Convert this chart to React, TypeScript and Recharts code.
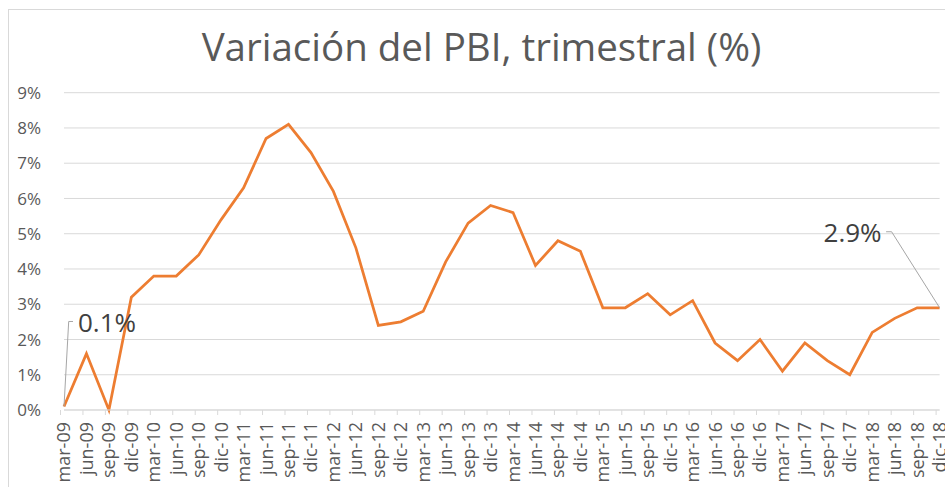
import React from 'react'
import { LineChart, Line, XAxis, YAxis, CartesianGrid, LabelList } from 'recharts'

const quarters = [
  'mar-09', 'jun-09', 'sep-09', 'dic-09',
  'mar-10', 'jun-10', 'sep-10', 'dic-10',
  'mar-11', 'jun-11', 'sep-11', 'dic-11',
  'mar-12', 'jun-12', 'sep-12', 'dic-12',
  'mar-13', 'jun-13', 'sep-13', 'dic-13',
  'mar-14', 'jun-14', 'sep-14', 'dic-14',
  'mar-15', 'jun-15', 'sep-15', 'dic-15',
  'mar-16', 'jun-16', 'sep-16', 'dic-16',
  'mar-17', 'jun-17', 'sep-17', 'dic-17',
  'mar-18', 'jun-18', 'sep-18', 'dic-18',
]

// variación trimestral del PBI, en %
const pbi = [
  0.1, 1.6, 0.0, 3.2,
  3.8, 3.8, 4.4, 5.4,
  6.3, 7.7, 8.1, 7.3,
  6.2, 4.6, 2.4, 2.5,
  2.8, 4.2, 5.3, 5.8,
  5.6, 4.1, 4.8, 4.5,
  2.9, 2.9, 3.3, 2.7,
  3.1, 1.9, 1.4, 2.0,
  1.1, 1.9, 1.4, 1.0,
  2.2, 2.6, 2.9, 2.9,
]

const yTicks = [0, 1, 2, 3, 4, 5, 6, 7, 8, 9]

const data = quarters.map((q, i) => ({ q, pbi: pbi[i] }))

const FONT = '"Open Sans", sans-serif'
const GREY = '#595959'

const QuarterTick = (props: any) => {
  const { x, y, payload } = props
  return (
    <g transform={`translate(${x},${y})`}>
      <line x1={-3.5} y1={0} x2={-3.5} y2={5} stroke="#d9d9d9" />
      <text
        transform="rotate(-90)"
        x={-12}
        y={0}
        dy="0.36em"
        textAnchor="end"
        fill={GREY}
        fontSize={18}
        fontFamily={FONT}
      >
        {payload.value}
      </text>
    </g>
  )
}

// etiquetas del primer y último dato, con línea guía
const EndLabel = (props: any) => {
  const { x, y, value, index } = props
  const txt = `${Number(value).toFixed(1)}%`
  if (index === 0) {
    return (
      <g>
        <polyline
          points={`${x},${y} ${x + 4.7},${y - 85} ${x + 9},${y - 85}`}
          fill="none"
          stroke="#a6a6a6"
          strokeWidth={1}
        />
        <text x={x + 14} y={y - 74} fill="#404040" fontSize={26} fontFamily={FONT}>
          {txt}
        </text>
      </g>
    )
  }
  if (index === pbi.length - 1) {
    return (
      <g>
        <polyline
          points={`${x},${y} ${x - 48},${y - 76} ${x - 53.5},${y - 76}`}
          fill="none"
          stroke="#a6a6a6"
          strokeWidth={1}
        />
        <text x={x - 58} y={y - 66} textAnchor="end" fill="#404040" fontSize={26} fontFamily={FONT}>
          {txt}
        </text>
      </g>
    )
  }
  return null
}

export default function App() {
  return (
    <div
      style={{
        position: 'fixed',
        left: 0,
        top: 0,
        width: 945,
        height: 487,
        overflow: 'hidden',
        background: '#fff',
      }}
    >
      <div
        style={{
          position: 'absolute',
          left: 8,
          top: 9,
          width: 1200,
          height: 800,
          border: '1px solid #d9d9d9',
        }}
      />
      <div
        style={{
          position: 'absolute',
          left: 9,
          top: 17,
          width: 945,
          textAlign: 'center',
          fontFamily: FONT,
          fontSize: 38.5,
          color: GREY,
          lineHeight: '58px',
          whiteSpace: 'nowrap',
        }}
      >
        Variación del PBI, trimestral (%)
      </div>
      <div style={{ position: 'absolute', left: 0, top: 0 }}>
        <LineChart
          width={945}
          height={487}
          data={data}
          margin={{ top: 92.7, right: 5.4, bottom: 0, left: 0 }}
        >
          <CartesianGrid vertical={false} stroke="#d9d9d9" />
          <XAxis
            dataKey="q"
            interval={0}
            height={77}
            tickSize={0}
            tickMargin={0}
            tickLine={false}
            axisLine={{ stroke: '#d9d9d9' }}
            tick={<QuarterTick />}
          />
          <YAxis
            width={64}
            domain={[0, 9]}
            ticks={yTicks}
            interval={0}
            tickSize={0}
            tickMargin={23}
            tickLine={false}
            axisLine={false}
            tickFormatter={(v: number) => `${v}%`}
            tick={{ fill: GREY, fontSize: 17, fontFamily: FONT }}
          />
          <Line
            type="linear"
            dataKey="pbi"
            stroke="#ed7d31"
            strokeWidth={2.75}
            dot={false}
            isAnimationActive={false}
          >
            <LabelList dataKey="pbi" content={<EndLabel />} />
          </Line>
        </LineChart>
      </div>
    </div>
  )
}
